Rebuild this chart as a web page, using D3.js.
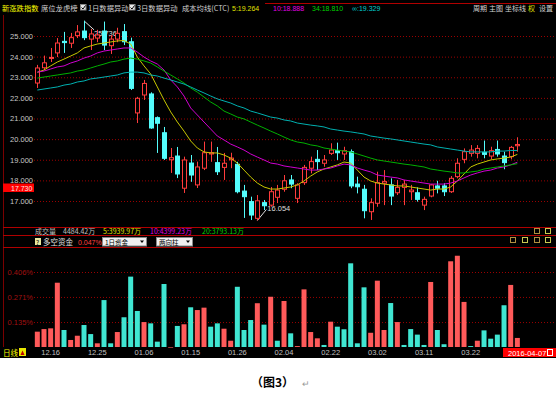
<!DOCTYPE html>
<html>
<head>
<meta charset="utf-8">
<script src="https://cdnjs.cloudflare.com/ajax/libs/d3/7.8.5/d3.min.js"></script>
<style>
body { margin: 0; background: #fff; }
svg { display: block; }
text { font-family: "Noto Sans CJK SC", "Liberation Sans", sans-serif; }
.num { font-family: "Liberation Sans", sans-serif; }
</style>
</head>
<body>
<svg id="chart" width="556" height="399"></svg>
<script>
// trading days shown
const dates = [
  "2015-12-14","2015-12-15","2015-12-16","2015-12-17","2015-12-18","2015-12-21","2015-12-22",
  "2015-12-23","2015-12-24","2015-12-25","2015-12-28","2015-12-29","2015-12-30","2015-12-31",
  "2016-01-04","2016-01-05","2016-01-06","2016-01-07","2016-01-08","2016-01-11","2016-01-12",
  "2016-01-13","2016-01-14","2016-01-15","2016-01-18","2016-01-19","2016-01-20","2016-01-21",
  "2016-01-22","2016-01-25","2016-01-26","2016-01-27","2016-01-28","2016-01-29","2016-02-01",
  "2016-02-02","2016-02-03","2016-02-04","2016-02-05","2016-02-15","2016-02-16","2016-02-17",
  "2016-02-18","2016-02-19","2016-02-22","2016-02-23","2016-02-24","2016-02-25","2016-02-26",
  "2016-02-29","2016-03-01","2016-03-02","2016-03-03","2016-03-04","2016-03-07","2016-03-08",
  "2016-03-09","2016-03-10","2016-03-11","2016-03-14","2016-03-15","2016-03-16","2016-03-17",
  "2016-03-18","2016-03-21","2016-03-22","2016-03-23","2016-03-24","2016-03-25","2016-03-28",
  "2016-03-29","2016-03-30","2016-03-31"
];
const dateTicks = ["2015-12-16","2015-12-25","2016-01-06","2016-01-15","2016-01-26",
  "2016-02-04","2016-02-22","2016-03-02","2016-03-11","2016-03-22"];

const open = [22.72,23.46,23.92,24.18,24.74,24.65,25.02,25.24,24.85,24.90,25.24,24.53,24.85,25.21,
  24.72,21.27,22.14,22.19,21.04,20.31,19.00,19.18,17.62,18.84,17.78,18.59,19.28,18.86,18.63,19.00,
  18.78,17.48,16.97,16.16,16.92,16.80,17.18,17.57,18.02,17.13,17.89,18.59,19.02,18.83,19.31,19.44,
  19.28,19.39,17.82,17.57,16.48,16.89,17.86,17.78,17.40,17.66,17.45,17.40,16.80,17.24,17.73,17.73,
  17.45,18.18,19.02,19.31,19.31,19.36,19.18,19.50,19.18,19.15,19.68];
const high = [23.60,24.05,24.42,24.90,25.20,25.15,25.53,25.736,25.34,25.30,25.70,25.05,25.40,25.58,
  24.92,22.05,22.87,22.27,21.10,20.59,19.57,19.62,19.15,19.23,18.91,19.88,19.88,19.62,19.33,19.34,
  18.90,17.78,17.21,17.29,17.05,17.68,17.78,18.26,18.26,17.86,18.75,19.15,19.47,19.23,19.80,19.83,
  19.63,19.50,18.18,17.78,17.13,18.42,18.50,18.10,18.02,18.02,17.78,17.66,17.21,17.82,17.98,17.86,
  18.21,19.07,19.55,19.71,19.71,19.93,19.63,19.93,19.39,19.67,20.09];
const low = [22.48,23.35,23.74,23.98,24.18,24.42,24.90,24.80,24.32,24.70,24.32,24.13,24.70,24.56,
  22.38,20.78,21.90,20.50,19.33,18.99,18.36,18.11,17.39,17.93,17.63,18.50,18.90,18.26,18.02,18.59,
  17.37,16.18,16.08,16.054,16.56,16.72,16.90,17.45,17.62,16.90,17.78,18.34,18.50,18.66,19.23,18.99,
  18.99,17.62,17.37,16.16,16.08,16.72,16.80,16.80,17.29,16.80,17.05,16.97,16.56,17.18,17.37,17.24,
  17.39,18.10,18.83,19.15,19.07,19.07,19.02,19.15,18.54,19.02,19.39];
const close = [23.45,23.70,23.96,24.66,24.68,24.92,25.20,24.92,25.10,25.05,24.56,24.85,25.13,24.72,
  22.46,21.98,22.70,20.54,20.77,19.07,19.10,18.31,18.99,18.26,18.65,19.34,19.34,18.42,18.83,19.08,
  17.45,17.21,16.32,17.01,16.77,17.45,17.53,17.98,17.82,17.78,18.63,18.91,18.91,18.99,19.47,19.34,
  19.44,17.73,17.69,16.53,16.92,17.89,17.94,17.24,17.66,17.82,17.53,17.08,17.08,17.78,17.62,17.45,
  18.10,18.83,19.39,19.47,19.55,19.26,19.44,19.28,18.86,19.60,19.74];

// moving averages and cost line
const ma5 = [23.24,23.35,23.55,23.74,23.88,24.03,24.18,24.42,24.52,24.61,24.66,24.71,24.76,24.78,
  24.61,23.98,23.55,23.16,22.53,21.90,21.32,20.83,20.39,19.91,19.57,19.38,19.33,19.33,19.23,19.08,
  18.84,18.50,18.16,17.87,17.68,17.58,17.58,17.63,17.68,17.78,17.97,18.21,18.41,18.55,18.65,18.75,
  18.89,18.84,18.50,18.16,17.97,17.87,17.82,17.78,17.73,17.73,17.68,17.63,17.58,17.53,17.58,17.58,
  17.68,17.97,18.31,18.65,18.79,18.89,18.99,19.04,19.08,19.13,19.26];
const ma10 = [23.25,23.30,23.40,23.50,23.55,23.69,23.79,23.93,24.03,24.18,24.27,24.32,24.37,24.42,
  24.42,24.22,23.98,23.79,23.64,23.35,22.87,22.53,22.09,21.51,21.17,20.83,20.49,20.15,19.96,19.76,
  19.62,19.47,19.28,19.13,18.99,18.84,18.79,18.70,18.65,18.60,18.55,18.50,18.50,18.55,18.60,18.70,
  18.79,18.75,18.60,18.50,18.41,18.26,18.21,18.16,18.12,18.02,17.97,17.92,17.87,17.82,17.82,17.82,
  17.87,17.97,18.12,18.26,18.36,18.45,18.50,18.60,18.65,18.75,18.88];
const ma34 = [22.96,23.01,23.06,23.11,23.16,23.21,23.30,23.35,23.45,23.55,23.64,23.74,23.79,23.88,
  23.93,23.88,23.79,23.69,23.50,23.30,23.11,22.92,22.72,22.48,22.28,22.04,21.80,21.61,21.36,21.22,
  21.07,20.98,20.83,20.68,20.54,20.39,20.25,20.10,19.96,19.86,19.81,19.72,19.67,19.57,19.52,19.47,
  19.42,19.38,19.28,19.18,19.08,18.99,18.94,18.89,18.84,18.79,18.75,18.70,18.65,18.55,18.50,18.45,
  18.41,18.36,18.36,18.41,18.45,18.55,18.60,18.65,18.70,18.75,18.81];
const maInf = [22.38,22.43,22.48,22.53,22.62,22.67,22.77,22.82,22.92,22.96,23.01,23.06,23.11,23.21,
  23.25,23.25,23.21,23.11,23.06,22.96,22.87,22.77,22.67,22.53,22.38,22.24,22.09,21.95,21.85,21.75,
  21.61,21.51,21.36,21.27,21.17,21.07,21.02,20.93,20.88,20.78,20.73,20.68,20.64,20.59,20.49,20.44,
  20.39,20.35,20.30,20.25,20.15,20.10,20.05,20.01,19.96,19.91,19.86,19.81,19.76,19.72,19.62,19.57,
  19.52,19.47,19.42,19.38,19.38,19.38,19.38,19.42,19.42,19.45,19.45];

// 多空资金 (%), positive = red, negative = cyan
const flow = [0.083,0.097,0.101,0.348,-0.092,0.038,0.061,-0.119,-0.070,0.020,-0.254,-0.020,0.081,
  -0.161,-0.381,-0.195,0.135,-0.128,-0.029,-0.341,0,-0.114,0.123,-0.215,0.200,0.213,-0.110,-0.128,
  0.099,0.034,-0.326,-0.092,-0.146,0.237,-0.121,0.272,-0.034,0.249,-0.074,0.005,0.312,0.081,0.047,
  -0.011,0.137,-0.110,-0.096,-0.453,-0.020,-0.323,0.077,0.359,0.092,-0.238,0.135,-0.011,-0.097,
  -0.067,-0.011,0.352,-0.092,-0.015,0.464,0.494,0.244,-0.005,0.034,-0.090,-0.045,-0.067,-0.226,
  0.336,0.049];

const priceTicks = [17, 18, 19, 20, 21, 22, 23, 24, 25];
const flowTicks = [0.135, 0.271, 0.406];

const RED = "#ff3c3c", CYAN = "#54fcfc", GRID = "#9a0000";

const svg = d3.select("#chart");
svg.append("rect").attr("width", 556).attr("height", 358).attr("fill", "#000");

const x = d3.scaleBand().domain(dates).range([34, 34 + dates.length * 6.667])
  .paddingInner(0.25).paddingOuter(0.125);
const cx = d => x(d) + x.bandwidth() / 2;
const y = d3.scaleLinear().domain([17, 25]).range([201, 36]);
const yf = d3.scaleLinear().domain([0, 0.406]).range([347, 272]);

// frame lines
svg.append("line").attr("x1", 3.5).attr("x2", 3.5).attr("y1", 15).attr("y2", 347)
  .attr("stroke", "#7a0000");
[227.5, 235.5, 247.5].forEach(v =>
  svg.append("line").attr("x1", 3).attr("x2", 556).attr("y1", v).attr("y2", v)
    .attr("stroke", "#b00000"));
svg.append("line").attr("x1", 265).attr("x2", 556).attr("y1", 3.5).attr("y2", 3.5)
  .attr("stroke", "#b00000");

// price grid + labels
const gGrid = svg.append("g").attr("transform", "translate(34,0)")
  .call(d3.axisRight(y).tickValues(priceTicks).tickSize(522).tickFormat(""));
gGrid.select(".domain").remove();
gGrid.selectAll("line").attr("stroke", GRID).attr("stroke-dasharray", "1,2");

const gy = svg.append("g").attr("transform", "translate(34,0)")
  .call(d3.axisLeft(y).tickValues(priceTicks).tickFormat(d3.format(".3f")).tickSize(0).tickPadding(1));
gy.select(".domain").remove();
gy.selectAll("text").attr("class", "num").attr("fill", "#c8c8c8").style("font-size", "7.5px");

// flow grid + labels
const gfGrid = svg.append("g").attr("transform", "translate(34,0)")
  .call(d3.axisRight(yf).tickValues(flowTicks).tickSize(522).tickFormat(""));
gfGrid.select(".domain").remove();
gfGrid.selectAll("line").attr("stroke", GRID).attr("stroke-dasharray", "1,2");

const gyf = svg.append("g").attr("transform", "translate(34,0)")
  .call(d3.axisLeft(yf).tickValues(flowTicks).tickFormat(d => d3.format(".3f")(d) + "%").tickSize(0).tickPadding(1));
gyf.select(".domain").remove();
gyf.selectAll("text").attr("class", "num").attr("fill", "#a01010").style("font-size", "7.5px");

// high / low marks (drawn under candles)
const hi = d3.maxIndex(high), lo = d3.minIndex(low);
svg.append("line").attr("x1", cx(dates[hi])).attr("y1", y(high[hi]))
  .attr("x2", cx(dates[hi]) + 10).attr("y2", y(high[hi]) + 9).attr("stroke", "#ddd");
svg.append("text").attr("class", "num").attr("x", cx(dates[hi]) + 10).attr("y", 36)
  .attr("fill", "#ddd").style("font-size", "7.5px").text(d3.format(".3f")(high[hi]));
svg.append("line").attr("x1", cx(dates[lo])).attr("y1", y(low[lo]))
  .attr("x2", cx(dates[lo]) + 9).attr("y2", y(low[lo]) - 11).attr("stroke", "#ddd");
svg.append("text").attr("class", "num").attr("x", cx(dates[lo]) + 10).attr("y", 211)
  .attr("fill", "#ddd").style("font-size", "7.5px").text(d3.format(".3f")(low[lo]));

// candles
const cg = svg.append("g");
dates.forEach((d, i) => {
  const up = close[i] >= open[i];
  const col = up ? RED : CYAN;
  const xc = Math.round(cx(d)) + 0.5;
  cg.append("line").attr("x1", xc).attr("x2", xc).attr("y1", y(high[i])).attr("y2", y(low[i]))
    .attr("stroke", col);
  const top = y(Math.max(open[i], close[i])), bot = y(Math.min(open[i], close[i]));
  cg.append("rect").attr("x", xc - 2).attr("width", 4)
    .attr("y", top).attr("height", Math.max(1, bot - top))
    .attr("fill", up ? "#000" : CYAN).attr("stroke", col);
});

// average lines
const lineGen = arr => d3.line().x((d, i) => cx(dates[i])).y(d => y(d))(arr);
[[ma5, "#c8c800"], [ma10, "#d000d0"], [ma34, "#00b000"], [maInf, "#00b0b0"]].forEach(([arr, c]) =>
  svg.append("path").attr("d", lineGen(arr)).attr("fill", "none").attr("stroke", c).attr("stroke-width", 1));

// flow bars
svg.append("g").selectAll("rect").data(flow).join("rect")
  .attr("x", (d, i) => x(dates[i]))
  .attr("width", x.bandwidth())
  .attr("y", d => yf(Math.abs(d)))
  .attr("height", d => Math.max(0.6, 347 - yf(Math.abs(d))))
  .attr("fill", d => d >= 0 ? "#ff5a5a" : "#40e6d2");

// date axis
const gx = svg.append("g").attr("transform", "translate(0,348)")
  .call(d3.axisBottom(x).tickValues(dateTicks).tickSize(0).tickPadding(2)
    .tickFormat(d => d.slice(5).replace("-", ".")));
gx.select(".domain").remove();
gx.selectAll("text").attr("class", "num").attr("fill", "#c0c0c0").style("font-size", "7.5px");

svg.append("text").attr("x", 3).attr("y", 356).attr("fill", "#ffff00").style("font-size", "7.5px").text("日线");
svg.append("rect").attr("x", 19).attr("y", 348).attr("width", 7).attr("height", 8).attr("fill", "#e8e800");
svg.append("path").attr("d", "M20.5,355L22.5,350.5L24.5,355Z").attr("fill", "#c00000");

svg.append("rect").attr("x", 503).attr("y", 348).attr("width", 53).attr("height", 9).attr("fill", "#ff0000");
svg.append("text").attr("class", "num").attr("x", 508).attr("y", 355.5).attr("fill", "#fff")
  .style("font-size", "7.5px").text("2016-04-07");
svg.append("rect").attr("x", 547.5).attr("y", 349.5).attr("width", 5).attr("height", 6)
  .attr("fill", "none").attr("stroke", "#fff");

// current price tag
svg.append("rect").attr("x", 3).attr("y", 183.5).attr("width", 31).attr("height", 8.5).attr("fill", "#ff0000");
svg.append("text").attr("class", "num").attr("x", 11).attr("y", 190.5).attr("fill", "#ffe0e0")
  .style("font-size", "7px").text("17.730");

// header row
const hdr = svg.append("g").style("font-size", "7.3px");
hdr.append("text").attr("x", 2).attr("y", 11).attr("fill", "#ffff00").text("新涨跌指数");
hdr.append("text").attr("x", 41).attr("y", 11).attr("fill", "#d0d0d0").text("席位龙虎榜");
[80, 129].forEach(cxb => {
  hdr.append("rect").attr("x", cxb + 0.5).attr("y", 4.5).attr("width", 5.5).attr("height", 5.5)
    .attr("fill", "#e8e8e8").attr("stroke", "#888");
  hdr.append("path").attr("d", `M${cxb + 1.5},7.5L${cxb + 3},9L${cxb + 5.5},5.5`)
    .attr("fill", "none").attr("stroke", "#000");
});
hdr.append("text").attr("x", 88).attr("y", 11).attr("fill", "#d0d0d0").text("1日数据异动");
hdr.append("text").attr("x", 137).attr("y", 11).attr("fill", "#d0d0d0").text("3日数据异动");
hdr.append("text").attr("x", 182).attr("y", 11).attr("fill", "#d0d0d0").text("成本均线(CTC)");
hdr.append("text").attr("class", "num").attr("x", 232).attr("y", 11).attr("fill", "#e0e000").style("font-size", "7px").text("5:19.264");
hdr.append("text").attr("class", "num").attr("x", 273).attr("y", 11).attr("fill", "#e000e0").style("font-size", "7px").text("10:18.888");
hdr.append("text").attr("class", "num").attr("x", 312).attr("y", 11).attr("fill", "#00d000").style("font-size", "7px").text("34:18.810");
hdr.append("text").attr("class", "num").attr("x", 352).attr("y", 11).attr("fill", "#00d0d0").style("font-size", "7px").text("∞:19.329");
[["周期", 473], ["主图", 489], ["坐标线", 505], ["设置", 539]].forEach(([t, px]) =>
  hdr.append("text").attr("x", px).attr("y", 11).attr("fill", "#d0d0d0").style("font-size", "7px").text(t));
hdr.append("text").attr("x", 528).attr("y", 11).attr("fill", "#e0e000").style("font-size", "7px").text("权");

// volume row
const vr = svg.append("g").style("font-size", "7px");
vr.append("text").attr("x", 35).attr("y", 234).attr("fill", "#c0c0c0").text("成交量");
vr.append("text").attr("x", 63).attr("y", 234).attr("fill", "#c0c0c0").text("4484.42万");
vr.append("text").attr("x", 103).attr("y", 234).attr("fill", "#e0e000").text("5:3939.97万");
vr.append("text").attr("x", 150).attr("y", 234).attr("fill", "#e000e0").text("10:4399.23万");
vr.append("text").attr("x", 202).attr("y", 234).attr("fill", "#00d000").text("20:3793.13万");

// indicator row
vr.append("rect").attr("x", 35).attr("y", 238).attr("width", 6).attr("height", 7).attr("fill", "#e8e8a0");
vr.append("text").attr("x", 36).attr("y", 244.5).attr("fill", "#000").style("font-size", "6.5px").text("?");
vr.append("text").attr("x", 43).attr("y", 244.5).attr("fill", "#e0e0e0").style("font-size", "7.5px").text("多空资金");
vr.append("text").attr("class", "num").attr("x", 78).attr("y", 244.5).attr("fill", "#ff4040").text("0.047%");
[[102, 44, "1日资金"], [156, 36, "两向柱"]].forEach(([bx, bw, t]) => {
  vr.append("rect").attr("x", bx + 0.5).attr("y", 237.5).attr("width", bw).attr("height", 8.5)
    .attr("fill", "#f0f0f0").attr("stroke", "#888");
  vr.append("text").attr("x", bx + 3).attr("y", 244.5).attr("fill", "#000").style("font-size", "6.5px").text(t);
  vr.append("path").attr("d", `M${bx + bw - 6},240.5L${bx + bw - 2},240.5L${bx + bw - 4},243Z`).attr("fill", "#000");
});

// small toolbar icons
[[534, 228], [545, 228], [510, 237], [522, 237], [534, 237], [545, 237]].forEach(([ix, iy], k) => {
  svg.append("rect").attr("x", ix + 0.5).attr("y", iy + 0.5).attr("width", 5).attr("height", 5)
    .attr("fill", "none").attr("stroke", k % 2 ? "#c8c850" : "#b09040");
});

// caption
svg.append("text").attr("x", 251).attr("y", 387).attr("fill", "#000")
  .style("font-size", "12px").style("font-weight", "bold").text("（图3）");
svg.append("text").attr("x", 302).attr("y", 387).attr("fill", "#999").style("font-size", "9px").text("↵");
</script>
</body>
</html>
